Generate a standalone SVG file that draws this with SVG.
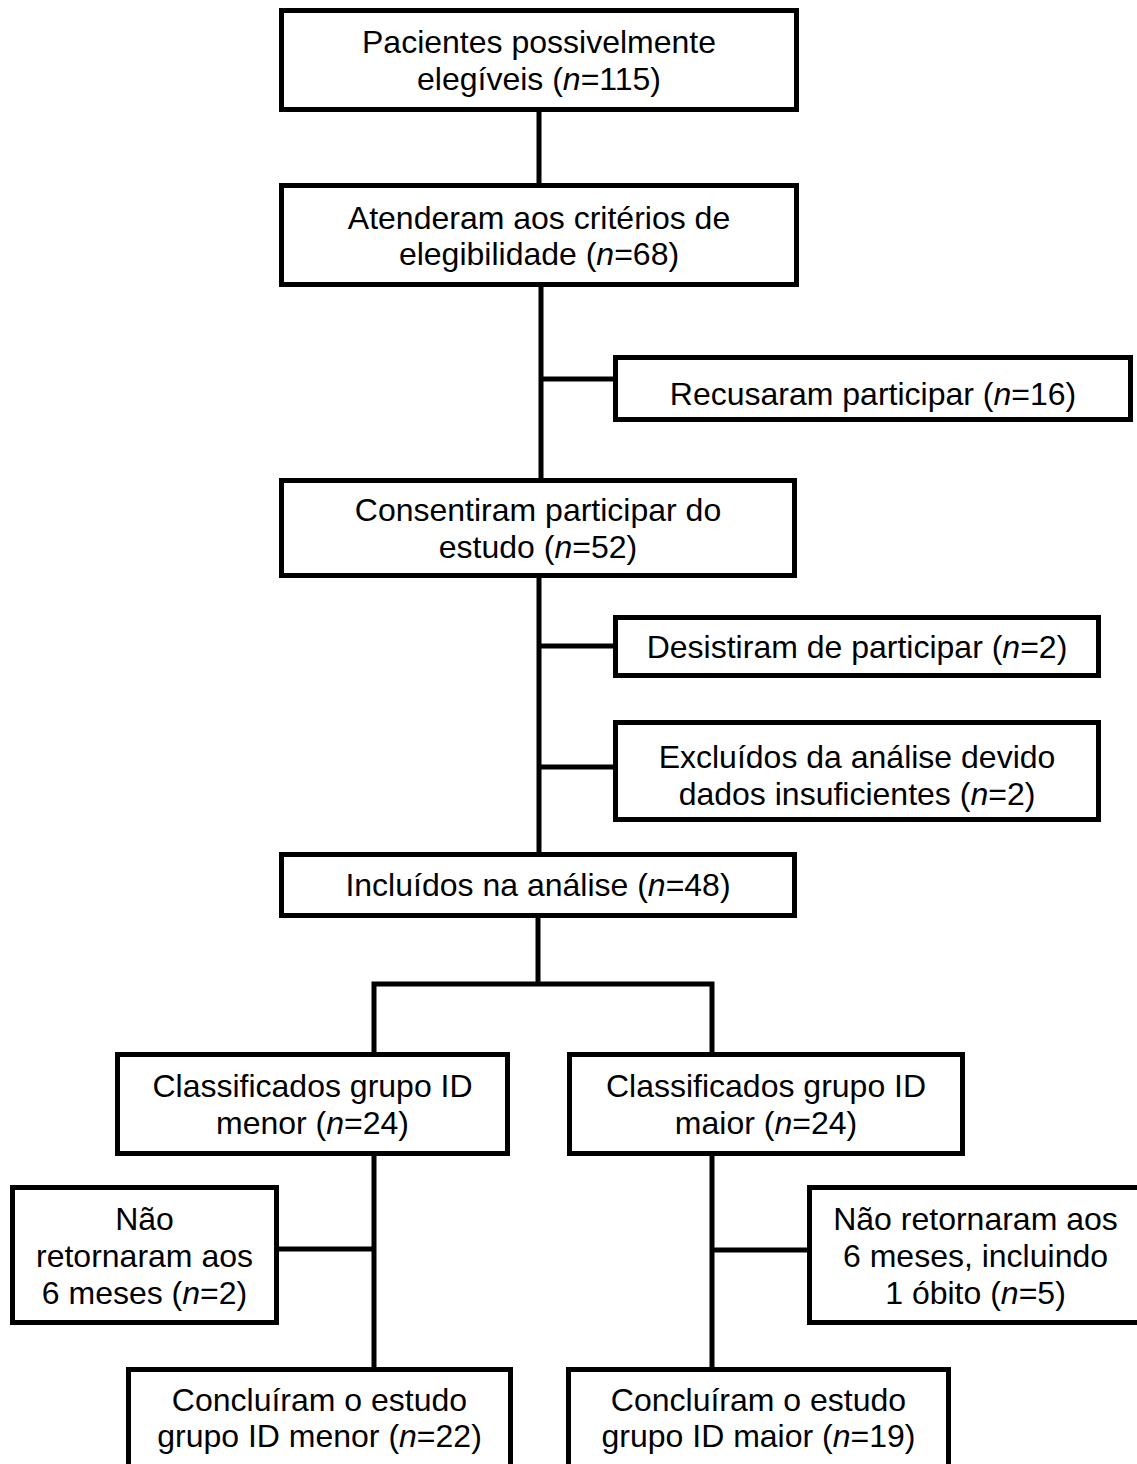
<svg xmlns="http://www.w3.org/2000/svg" width="1137" height="1464" viewBox="0 0 1137 1464">
<style>
.box{fill:#fff;stroke:#000;stroke-width:5}
.ln{stroke:#000;stroke-width:5;fill:none}
text{font-family:"Liberation Sans",Arial,sans-serif;font-size:32px;fill:#000;text-anchor:middle}
.i{font-style:italic}
</style>
<rect width="1137" height="1464" fill="#fff"/>
<g id="connectors">
<line class="ln" x1="539" y1="110" x2="539" y2="186"/>
<line class="ln" x1="541" y1="285" x2="541" y2="481"/>
<line class="ln" x1="541" y1="379" x2="616" y2="379"/>
<line class="ln" x1="539" y1="576" x2="539" y2="855"/>
<line class="ln" x1="539" y1="646" x2="616" y2="646"/>
<line class="ln" x1="539" y1="767" x2="616" y2="767"/>
<line class="ln" x1="538" y1="916" x2="538" y2="984"/>
<polyline class="ln" points="374,1055 374,984 712,984 712,1055"/>
<line class="ln" x1="374" y1="1153" x2="374" y2="1370"/>
<line class="ln" x1="276" y1="1249" x2="374" y2="1249"/>
<line class="ln" x1="712" y1="1153" x2="712" y2="1370"/>
<line class="ln" x1="712" y1="1250" x2="810" y2="1250"/>
</g>
<g id="n1">
<rect class="box" x="281.5" y="10.5" width="515" height="99"/>
<text x="539" y="53">Pacientes possivelmente</text>
<text x="539" y="90">elegíveis (<tspan class="i">n</tspan>=115)</text>
</g>
<g id="n2">
<rect class="box" x="281.5" y="185.5" width="515" height="99"/>
<text x="539" y="229">Atenderam aos critérios de</text>
<text x="539" y="265">elegibilidade (<tspan class="i">n</tspan>=68)</text>
</g>
<g id="n3">
<rect class="box" x="615.5" y="357.5" width="515" height="62"/>
<text x="873" y="405">Recusaram participar (<tspan class="i">n</tspan>=16)</text>
</g>
<g id="n4">
<rect class="box" x="281.5" y="480.5" width="513" height="95"/>
<text x="538" y="521">Consentiram participar do</text>
<text x="538" y="558">estudo (<tspan class="i">n</tspan>=52)</text>
</g>
<g id="n5">
<rect class="box" x="615.5" y="617.5" width="483" height="58"/>
<text x="857" y="658">Desistiram de participar (<tspan class="i">n</tspan>=2)</text>
</g>
<g id="n6">
<rect class="box" x="615.5" y="722.5" width="483" height="97"/>
<text x="857" y="768">Excluídos da análise devido</text>
<text x="857" y="805">dados insuficientes (<tspan class="i">n</tspan>=2)</text>
</g>
<g id="n7">
<rect class="box" x="281.5" y="854.5" width="513" height="61"/>
<text x="538" y="896">Incluídos na análise (<tspan class="i">n</tspan>=48)</text>
</g>
<g id="n8">
<rect class="box" x="117.5" y="1054.5" width="390" height="99"/>
<text x="312.5" y="1097">Classificados grupo ID</text>
<text x="312.5" y="1134">menor (<tspan class="i">n</tspan>=24)</text>
</g>
<g id="n9">
<rect class="box" x="569.5" y="1054.5" width="393" height="99"/>
<text x="766" y="1097">Classificados grupo ID</text>
<text x="766" y="1134">maior (<tspan class="i">n</tspan>=24)</text>
</g>
<g id="n10">
<rect class="box" x="12.5" y="1187.5" width="264" height="135"/>
<text x="144.5" y="1230">Não</text>
<text x="144.5" y="1267">retornaram aos</text>
<text x="144.5" y="1304">6 meses (<tspan class="i">n</tspan>=2)</text>
</g>
<g id="n11">
<rect class="box" x="809.5" y="1187.5" width="332" height="135"/>
<text x="975.5" y="1230">Não retornaram aos</text>
<text x="975.5" y="1267">6 meses, incluindo</text>
<text x="975.5" y="1304">1 óbito (<tspan class="i">n</tspan>=5)</text>
</g>
<g id="n12">
<rect class="box" x="128.5" y="1369.5" width="382" height="120"/>
<text x="319.5" y="1411">Concluíram o estudo</text>
<text x="319.5" y="1447">grupo ID menor (<tspan class="i">n</tspan>=22)</text>
</g>
<g id="n13">
<rect class="box" x="568.5" y="1369.5" width="380" height="120"/>
<text x="758.5" y="1411">Concluíram o estudo</text>
<text x="758.5" y="1447">grupo ID maior (<tspan class="i">n</tspan>=19)</text>
</g>
</svg>
